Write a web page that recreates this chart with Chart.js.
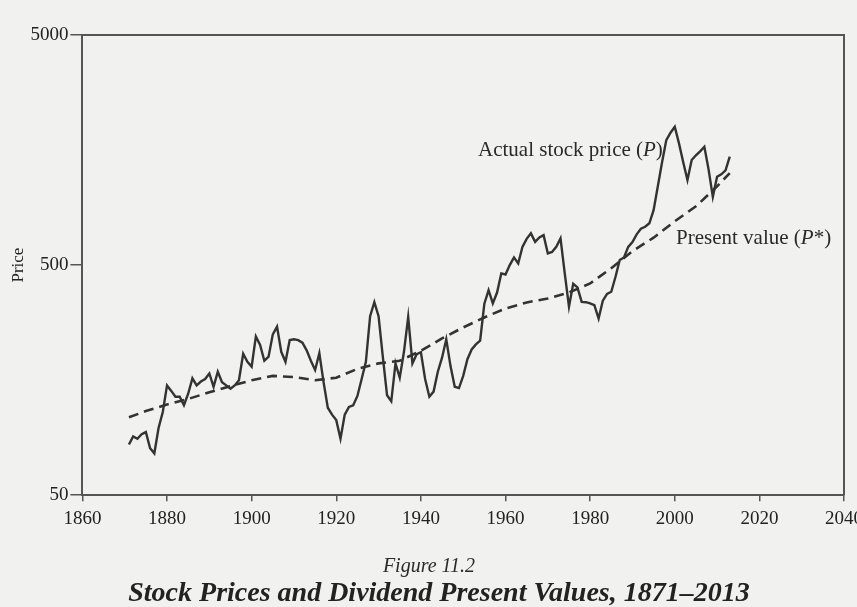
<!DOCTYPE html>
<html>
<head>
<meta charset="utf-8">
<script src="https://cdn.jsdelivr.net/npm/chart.js@4.4.0/dist/chart.umd.min.js"></script>
<style>
  html, body { margin: 0; padding: 0; background: #f1f1f0; overflow: hidden; }
  body { width: 857px; height: 607px; position: relative; font-family: 'Liberation Serif', 'DejaVu Serif', serif; color: #222; }
  #wrap { position: absolute; left: 0; top: 0; width: 880px; height: 607px; }
  .cap { position: absolute; left: 0; text-align: center; font-style: italic; white-space: nowrap; }
  #fig { width: 858px; top: 552px; font-size: 20px; line-height: 26px; color: #2a2a2a; }
  #ttl { width: 878px; top: 576px; font-size: 28px; line-height: 32px; font-weight: bold; }
</style>
</head>
<body>
<div id="wrap"><canvas id="chart"></canvas></div>
<div class="cap" id="fig">Figure 11.2</div>
<div class="cap" id="ttl">Stock Prices and Dividend Present Values, 1871–2013</div>
<script>
const priceYears = [1871,1872,1873,1874,1875,1876,1877,1878,1879,1880,1881,1882,1883,1884,1885,1886,1887,1888,1889,1890,
  1891,1892,1893,1894,1895,1896,1897,1898,1899,1900,1901,1902,1903,1904,1905,1906,1907,1908,1909,1910,
  1911,1912,1913,1914,1915,1916,1917,1918,1919,1920,1921,1922,1923,1924,1925,1926,1927,1928,1929,1930,
  1931,1932,1933,1934,1935,1936,1937,1938,1939,1940,1941,1942,1943,1944,1945,1946,1947,1948,1949,1950,
  1951,1952,1953,1954,1955,1956,1957,1958,1959,1960,1961,1962,1963,1964,1965,1966,1967,1968,1969,1970,
  1971,1972,1973,1974,1975,1976,1977,1978,1979,1980,1981,1982,1983,1984,1985,1986,1987,1988,1989,1990,
  1991,1992,1993,1994,1995,1996,1997,1998,1999,2000,2001,2002,2003,2004,2005,2006,2007,2008,2009,2010,
  2011,2012,2013];
const priceValues = [83,90,88,92,94,80,76,98,115,150,142,134,134,123,138,161,150,156,160,169,
  148,172,155,150,145,150,158,206,190,181,245,225,192,200,250,270,210,190,236,238,
  236,230,213,192,175,207,155,120,112,106,88,112,121,123,135,160,190,300,345,300,
  200,136,128,187,162,210,298,187,205,209,160,134,141,172,198,238,182,148,146,165,
  195,215,226,235,340,389,341,380,460,455,500,540,508,600,650,687,631,660,675,562,
  570,600,653,460,330,415,400,346,345,341,335,293,350,375,383,445,526,540,600,630,
  680,720,734,760,867,1100,1400,1747,1880,1995,1690,1400,1172,1431,1500,1560,1634,1300,990,1210,
  1240,1290,1480];

// dividend present value (P*)
const pvYears = [1871,1875,1880,1885,1890,1895,1900,1905,1910,1915,1920,1925,1930,1935,1940,1945,1950,1955,1960,1965,
  1970,1975,1980,1985,1990,1995,2000,2005,2010,2013];
const pvValues = [109,116,124,131,140,149,158,165,163,158,162,177,187,192,212,240,268,296,324,344,
  358,380,416,485,575,658,775,900,1100,1256];

const xTicks = [1860,1880,1900,1920,1940,1960,1980,2000,2020,2040];
const yTicks = [50,500,5000];

const ink = '#333';
const serif = "'Liberation Serif', 'DejaVu Serif', serif";

const toPoints = (xs, ys) => xs.map((x, i) => ({ x: x, y: ys[i] }));

// frame on top/right + line labels
const extras = {
  id: 'extras',
  afterDatasetsDraw(chart) {
    const { ctx, chartArea: a, scales: { x, y } } = chart;
    ctx.save();
    ctx.strokeStyle = '#555';
    ctx.lineWidth = 2;
    ctx.beginPath();
    ctx.moveTo(a.left, a.top);
    ctx.lineTo(a.right, a.top);
    ctx.lineTo(a.right, a.bottom);
    ctx.stroke();

    ctx.fillStyle = '#2a2a2a';
    ctx.textBaseline = 'middle';
    const label = (yr, val, parts) => {
      let px = x.getPixelForValue(yr);
      const py = y.getPixelForValue(val);
      parts.forEach(p => {
        ctx.font = (p[1] ? 'italic ' : '') + '21px ' + serif;
        ctx.fillText(p[0], px, py);
        px += ctx.measureText(p[0]).width;
      });
    };
    label(1953.5, 1580, [['Actual stock price (', false], ['P', true], [')', false]]);
    label(2000.3, 650, [['Present value (', false], ['P', true], ['*)', false]]);
    ctx.restore();
  }
};

new Chart(document.getElementById('chart'), {
  type: 'line',
  data: {
    datasets: [
      {
        label: 'Actual stock price (P)',
        data: toPoints(priceYears, priceValues),
        borderColor: ink,
        borderWidth: 2.4,
        pointRadius: 0,
        tension: 0
      },
      {
        label: 'Present value (P*)',
        data: toPoints(pvYears, pvValues),
        borderColor: ink,
        borderWidth: 2.6,
        borderDash: [10, 6],
        pointRadius: 0,
        tension: 0
      }
    ]
  },
  options: {
    responsive: true,
    maintainAspectRatio: false,
    animation: false,
    layout: { padding: { left: 4, right: 36, top: 35, bottom: 71 } },
    plugins: {
      legend: { display: false },
      tooltip: { enabled: false }
    },
    scales: {
      x: {
        type: 'linear',
        min: 1860,
        max: 2040,
        afterBuildTicks: s => { s.ticks = xTicks.map(v => ({ value: v })); },
        ticks: { color: '#222', font: { family: serif, size: 19 }, padding: 6, callback: v => String(v) },
        grid: { drawOnChartArea: false, drawTicks: true, tickLength: 6, color: '#555', lineWidth: 1.5 },
        border: { display: true, color: '#555', width: 2 }
      },
      y: {
        type: 'logarithmic',
        min: 50,
        max: 5000,
        afterBuildTicks: s => { s.ticks = yTicks.map(v => ({ value: v })); },
        ticks: { color: '#222', font: { family: serif, size: 19 }, padding: 2, callback: v => String(v) },
        grid: { drawOnChartArea: false, drawTicks: true, tickLength: 12, color: '#555', lineWidth: 1.5 },
        border: { display: true, color: '#555', width: 2 },
        title: { display: true, text: 'Price', color: '#222', font: { family: serif, size: 17 }, padding: { top: 4, bottom: 0 } }
      }
    }
  },
  plugins: [extras]
});
</script>
</body>
</html>
